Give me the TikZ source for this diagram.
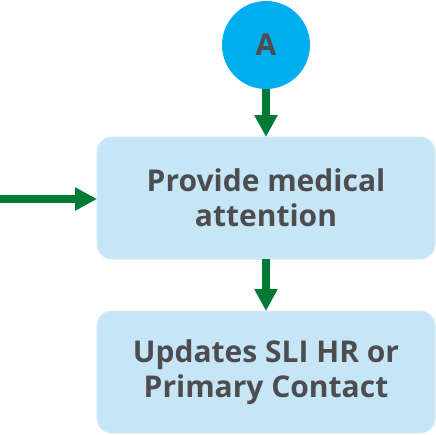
\documentclass[tikz,border=0pt]{standalone}
\usepackage{fontspec}
\setmainfont{Open Sans}
\usetikzlibrary{arrows.meta}
\definecolor{boxblue}{HTML}{C6E6F7}
\definecolor{boxedge}{HTML}{D3ECF9}
\definecolor{circblue}{HTML}{00AEEF}
\definecolor{flowgreen}{HTML}{017A36}
\definecolor{textgrey}{HTML}{4D4D4F}
\begin{document}
\begin{tikzpicture}[x=1pt,y=-1pt,>={Triangle[length=22pt,width=22pt]},
		stepbox/.style={rectangle,rounded corners=15pt,fill=boxblue,draw=boxedge,line width=1pt,minimum width=338pt,minimum height=122pt,inner sep=0pt,outer sep=0pt,align=center,text=textgrey,font=\fontsize{30}{35}\selectfont\bfseries},
		conn/.style={draw=flowgreen,line width=7.5pt,->}]
			\useasboundingbox (0,0) rectangle (436,434);
			\node[circle,fill=circblue,minimum size=88pt,inner sep=0pt,outer sep=0pt,text=textgrey,font=\fontsize{30}{32}\selectfont\bfseries] (conA) at (266,45) {A};
			\node[stepbox] (medical) at (266,198) {Provide medical\\attention};
			\node[stepbox] (update) at (266,372) {Updates SLI HR or\\Primary Contact};
			\coordinate (inflow) at (0,199);
			\draw[conn] (conA.south) -- (medical.north);
			\draw[conn] (inflow) -- (medical.west|-inflow);
			\draw[conn] (medical.south) -- (update.north);
		\end{tikzpicture}
\end{document}
